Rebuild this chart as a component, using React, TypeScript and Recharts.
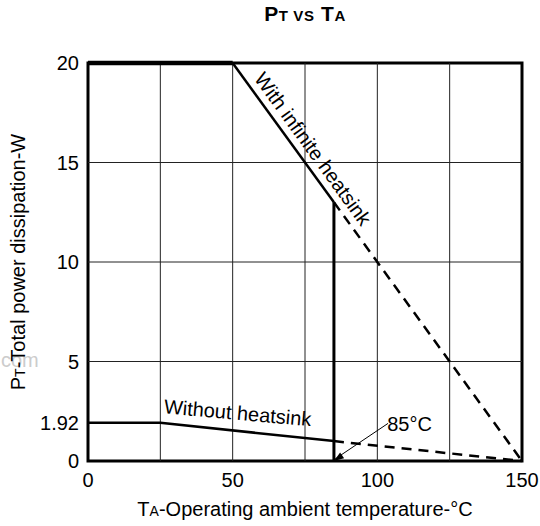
import {
  ComposedChart, Line, XAxis, YAxis, ReferenceLine, ReferenceArea, ReferenceDot, Label,
} from 'recharts'

const tempTicks = [0, 50, 100, 150]
const powerTicks = [0, 1.92, 5, 10, 15, 20]
const gridTemps = [25, 50, 75, 100, 125]
const gridPowers = [5, 10, 15]

// with infinite heatsink
const infiniteFlat = [{ t: 0, p: 20 }, { t: 50, p: 20 }]
const infiniteSlope = [{ t: 50, p: 20 }, { t: 85, p: 13 }]
const infiniteDrop = [{ t: 85, p: 13 }, { t: 85, p: 0 }]
const infiniteDashed = [{ t: 85, p: 13 }, { t: 150, p: 0 }]

// without heatsink
const bareSolid = [{ t: 0, p: 1.92 }, { t: 25, p: 1.92 }, { t: 85, p: 1.0 }]
const bareDashed = [{ t: 85, p: 1.0 }, { t: 150, p: 0 }]

// 85°C callout
const arrowShaft = [{ t: 103.7, p: 1.89 }, { t: 85.4, p: 0.1 }]

const FONT = '"Liberation Sans", Arial, Helvetica, sans-serif'
const tickStyle = { fontSize: 20, fill: '#000', fontFamily: FONT }

function AnnotText({ cx, cy, text, angle, lift, anchor = 'middle' }: {
  cx?: number
  cy?: number
  text: string
  angle: number
  lift: number
  anchor?: 'start' | 'middle' | 'end'
}) {
  if (cx == null || cy == null) return null
  return (
    <text
      x={cx}
      y={cy - lift}
      transform={`rotate(${angle} ${cx} ${cy})`}
      textAnchor={anchor}
      fontSize={20}
      fontFamily={FONT}
      fill="#000"
    >
      {text}
    </text>
  )
}

function ArrowHead({ cx, cy }: { cx?: number; cy?: number }) {
  if (cx == null || cy == null) return null
  return (
    <polygon
      points="0,0 -10,-3.5 -10,3.5"
      transform={`translate(${cx} ${cy}) rotate(145)`}
      fill="#000"
    />
  )
}

function XTitle({ viewBox }: { viewBox?: { x: number; y: number; width: number } }) {
  if (!viewBox) return null
  return (
    <text x={viewBox.x + viewBox.width / 2} y={viewBox.y + 55} textAnchor="middle"
      fontSize={20} fontFamily={FONT} fill="#000">
      T<tspan fontSize={14}>A</tspan>-Operating ambient temperature-°C
    </text>
  )
}

function YTitle({ viewBox }: { viewBox?: { x: number; y: number; height: number } }) {
  if (!viewBox) return null
  const cx = 24.5
  const cy = viewBox.y + viewBox.height / 2
  return (
    <text x={cx} y={cy} transform={`rotate(-90 ${cx} ${cy})`} textAnchor="middle"
      fontSize={20} fontFamily={FONT} fill="#000">
      P<tspan fontSize={14}>T</tspan>-Total power dissipation-W
    </text>
  )
}

export default function App() {
  const dash = '10 7'
  return (
    <div style={{ position: 'absolute', left: 0, top: 0, width: 540, height: 526, background: '#fff' }}>
      <div style={{
        position: 'absolute', left: 88, width: 434, top: 2, textAlign: 'center',
        fontFamily: FONT, fontWeight: 'bold', fontSize: 21, lineHeight: '24px', letterSpacing: 0.6,
      }}>
        P<span style={{ fontSize: 15 }}>T VS</span> T<span style={{ fontSize: 15 }}>A</span>
      </div>
      <div style={{
        position: 'absolute', left: 1, top: 349, fontFamily: FONT, fontSize: 20, color: '#cccccc',
      }}>
        com
      </div>
      <ComposedChart width={540} height={526} margin={{ top: 63, right: 18, bottom: 35, left: 1 }}
        style={{ position: 'absolute', left: 0, top: 0 }}>
        <XAxis
          dataKey="t"
          type="number"
          domain={[0, 150]}
          ticks={tempTicks}
          tick={tickStyle}
          tickLine={false}
          axisLine={false}
          tickSize={10}
          height={30}
          allowDuplicatedCategory={false}
        >
          <Label content={<XTitle />} />
        </XAxis>
        <YAxis
          dataKey="p"
          type="number"
          domain={[0, 20]}
          ticks={powerTicks}
          tick={tickStyle}
          tickLine={false}
          axisLine={false}
          tickSize={7}
          width={87}
        >
          <Label content={<YTitle />} />
        </YAxis>

        {gridTemps.map((t) => (
          <ReferenceLine key={`gx${t}`} x={t} stroke="#222" strokeWidth={1} />
        ))}
        {gridPowers.map((p) => (
          <ReferenceLine key={`gy${p}`} y={p} stroke="#222" strokeWidth={1} />
        ))}
        <ReferenceArea x1={0} x2={150} y1={0} y2={20} fill="none" fillOpacity={0} stroke="#000" strokeWidth={3} />

        <Line data={infiniteFlat} dataKey="p" type="linear" stroke="#000" strokeWidth={4.5} dot={false} isAnimationActive={false} />
        <Line data={infiniteSlope} dataKey="p" type="linear" stroke="#000" strokeWidth={2.5} dot={false} isAnimationActive={false} />
        <Line data={infiniteDrop} dataKey="p" type="linear" stroke="#000" strokeWidth={3} dot={false} isAnimationActive={false} />
        <Line data={infiniteDashed} dataKey="p" type="linear" stroke="#000" strokeWidth={2.5} strokeDasharray={dash} dot={false} isAnimationActive={false} />
        <Line data={bareSolid} dataKey="p" type="linear" stroke="#000" strokeWidth={2.5} dot={false} isAnimationActive={false} />
        <Line data={bareDashed} dataKey="p" type="linear" stroke="#000" strokeWidth={2.5} strokeDasharray={dash} dot={false} isAnimationActive={false} />
        <Line data={arrowShaft} dataKey="p" type="linear" stroke="#000" strokeWidth={1} dot={false} isAnimationActive={false} />

        <ReferenceDot x={85} y={0} r={0} shape={(props: any) => <ArrowHead {...props} />} />
        <ReferenceDot x={73.7} y={15.26} r={0}
          shape={(props: any) => <AnnotText {...props} text="With infinite heatsink" angle={54} lift={7.5} />} />
        <ReferenceDot x={51.2} y={1.52} r={0}
          shape={(props: any) => <AnnotText {...props} text="Without heatsink" angle={5} lift={11} />} />
        <ReferenceDot x={103.4} y={1.53} r={0}
          shape={(props: any) => <AnnotText {...props} text="85°C" angle={0} lift={0} anchor="start" />} />
      </ComposedChart>
    </div>
  )
}
